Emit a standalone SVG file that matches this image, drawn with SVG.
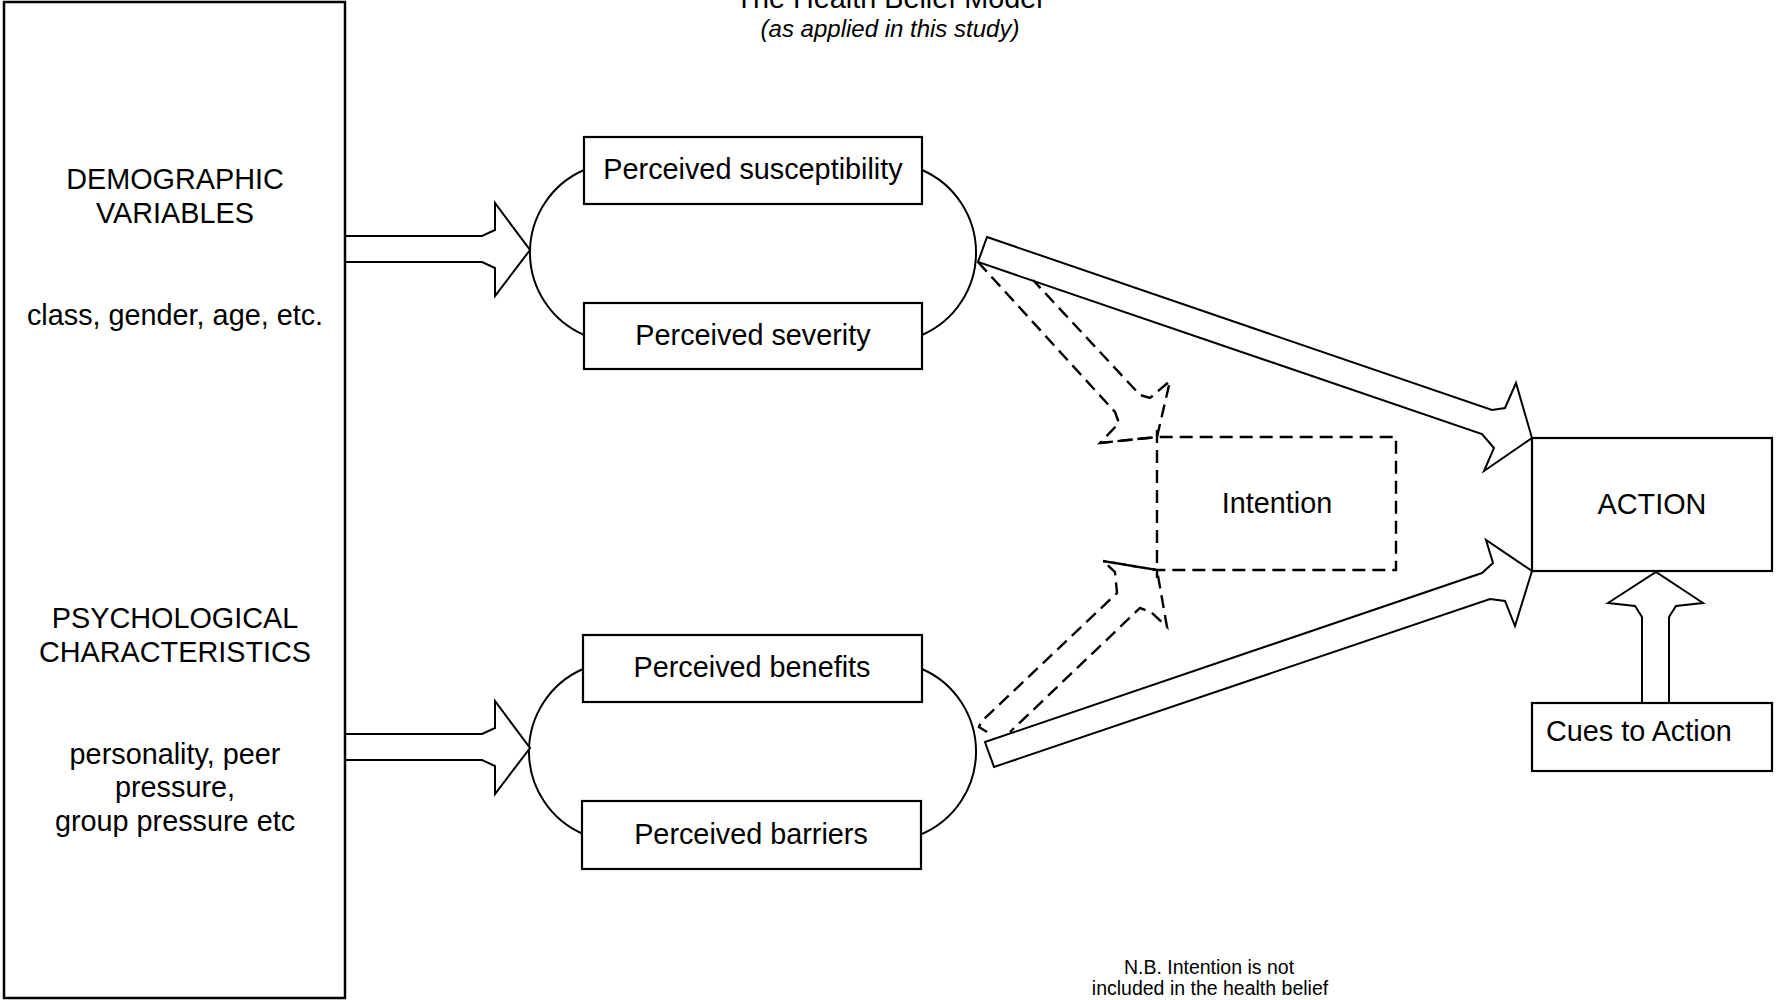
<svg xmlns="http://www.w3.org/2000/svg" width="1777" height="1000" viewBox="0 0 1777 1000">
<style>
  text { font-family: "Liberation Sans", Arial, sans-serif; fill: #000; }
  .t28 { font-size: 28.8px; }
  .mid { text-anchor: middle; }
  .box { fill: #fff; stroke: #000; stroke-width: 2.2; }
  .arc { fill: none; stroke: #000; stroke-width: 2; }
  .block { fill: #fff; stroke: #000; stroke-width: 2; stroke-linejoin: miter; }
  .dash { fill: none; stroke: #000; stroke-width: 2.4; stroke-dasharray: 13 7; }
</style>
<rect width="1777" height="1000" fill="#fff"/>

<g id="title">
  <text class="t28 mid" x="889" y="8">The Health Belief Model</text>
  <text class="mid" x="890" y="37" font-size="24" font-style="italic">(as applied in this study)</text>
</g>

<g id="note">
  <text class="mid" x="1209" y="974" font-size="19.5">N.B. Intention is not</text>
  <text class="mid" x="1210" y="995" font-size="19.5">included in the health belief</text>
</g>

<g id="connectors">
  <!-- oval arcs -->
  <path class="arc" d="M584,170 A90,90 0 0,0 584,335"/>
  <path class="arc" d="M922,170 A90,90 0 0,1 922,335"/>
  <path class="arc" d="M583,669 A90,90 0 0,0 583,834"/>
  <path class="arc" d="M922,669 A90,90 0 0,1 922,834"/>
  <!-- left block arrows -->
  <path class="block" d="M345,236 L482,236 L495,230 L495,203 L530,250 L495,296 L495,268 L482,262 L345,262"/>
  <path class="block" d="M345,734 L482,734 L495,728 L495,701 L530,748 L495,794 L495,766 L482,760 L345,760"/>
  <!-- thick arrows to ACTION -->
  <path class="block" d="M987,237 L1492,410 L1505,408 L1516,383 L1532,438 L1484,471 L1494,448 L1482,434 L978,262 Z"/>
  <path class="block" d="M985,742 L1482,573 L1493,563 L1486,540 L1532,571 L1515,626 L1505,601 L1490,599 L994,767 Z"/>
  <!-- cues arrow -->
  <path class="block" d="M1642,703 L1642,617 L1635,606 L1608,603 L1656,572 L1703,603 L1676,606 L1669,617 L1669,703"/>
  <!-- dashed arrows to Intention -->
  <path class="dash" d="M978,262 L1115,412 L1119,423 L1100,443 L1157,437 L1170,381 L1150,398 L1140,395 L1033,280"/>
  <path class="dash" d="M987,732 L979,727 L981,722 L1117,593 L1115,572 L1103,561 L1157,570 L1167,627 L1151,612 L1140,608 L1010,732"/>
</g>

<g id="left-box">
  <rect x="4" y="2" width="341" height="996" fill="#fff" stroke="#000" stroke-width="2.5"/>
  <text class="t28 mid" x="175" y="189">DEMOGRAPHIC</text>
  <text class="t28 mid" x="175" y="223">VARIABLES</text>
  <text class="t28 mid" x="175" y="325">class, gender, age, etc.</text>
  <text class="t28 mid" x="175" y="628">PSYCHOLOGICAL</text>
  <text class="t28 mid" x="175" y="662">CHARACTERISTICS</text>
  <text class="t28 mid" x="175" y="764">personality, peer</text>
  <text class="t28 mid" x="175" y="797">pressure,</text>
  <text class="t28 mid" x="175" y="831">group pressure etc</text>
</g>

<g id="susceptibility">
  <rect class="box" x="584" y="137" width="338" height="67"/>
  <text class="t28 mid" x="753" y="179">Perceived susceptibility</text>
</g>
<g id="severity">
  <rect class="box" x="584" y="303" width="338" height="66"/>
  <text class="t28 mid" x="753" y="345">Perceived severity</text>
</g>
<g id="benefits">
  <rect class="box" x="583" y="635" width="339" height="67"/>
  <text class="t28 mid" x="752" y="677">Perceived benefits</text>
</g>
<g id="barriers">
  <rect class="box" x="582" y="801" width="339" height="68"/>
  <text class="t28 mid" x="751" y="844">Perceived barriers</text>
</g>

<g id="intention">
  <path class="dash" d="M1100,443 L1157,437 L1396,437 L1396,570 L1157,570 L1103,561 M1157,430 L1157,578"/>
  <text class="t28 mid" x="1277" y="513">Intention</text>
</g>

<g id="action">
  <rect class="box" x="1532" y="438" width="240" height="133"/>
  <text class="t28 mid" x="1652" y="514">ACTION</text>
</g>

<g id="cues">
  <rect class="box" x="1532" y="703" width="240" height="68"/>
  <text class="t28" x="1546" y="741">Cues to Action</text>
</g>
</svg>
